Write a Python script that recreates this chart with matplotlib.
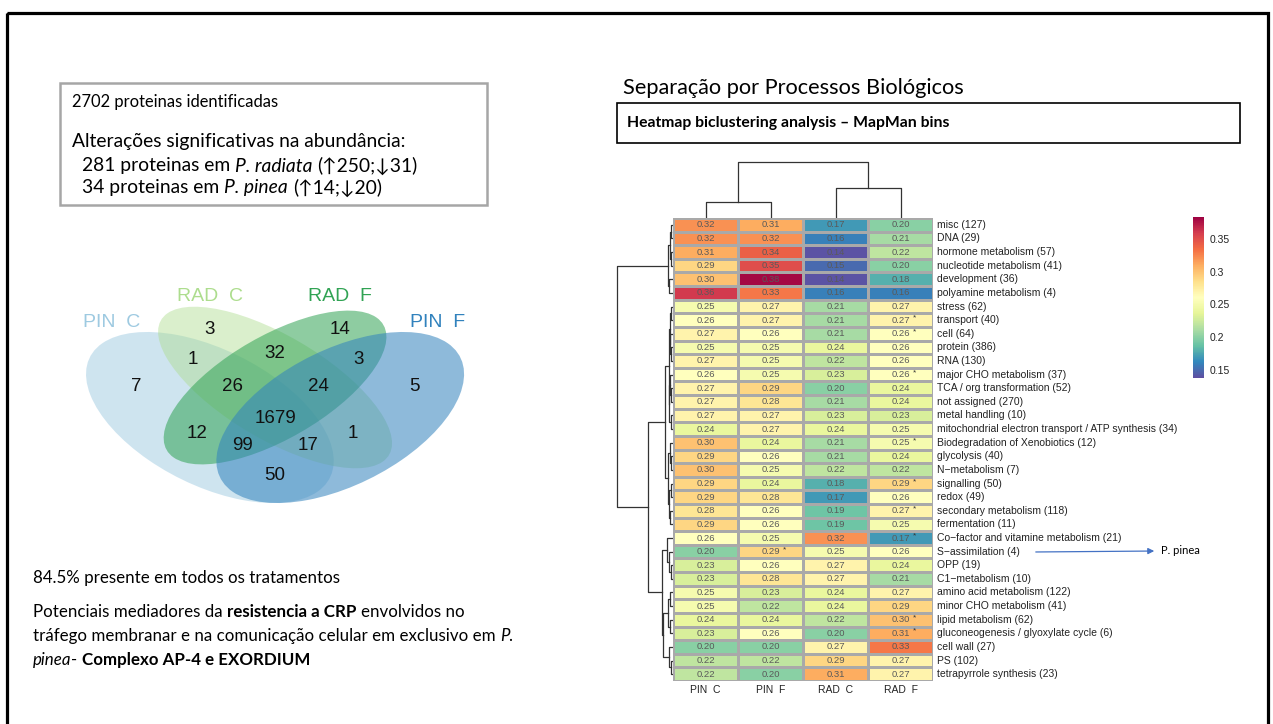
import matplotlib
matplotlib.use("Agg")
import numpy as np
import matplotlib.pyplot as plt
from matplotlib.patches import Ellipse, Rectangle

W, H = 1273, 724
SLIDE_FONT = ["Lato", "DejaVu Sans"]
HM_FONT = ["Liberation Sans", "DejaVu Sans"]

# ---------------- heatmap data (MapMan bins, mean values per condition)
bins = [
    "misc (127)", "DNA (29)", "hormone metabolism (57)", "nucleotide metabolism (41)",
    "development (36)", "polyamine metabolism (4)", "stress (62)", "transport (40)",
    "cell (64)", "protein (386)", "RNA (130)", "major CHO metabolism (37)",
    "TCA / org transformation (52)", "not assigned (270)", "metal handling (10)",
    "mitochondrial electron transport / ATP synthesis (34)",
    "Biodegradation of Xenobiotics (12)", "glycolysis (40)", "N\u2212metabolism (7)",
    "signalling (50)", "redox (49)", "secondary metabolism (118)", "fermentation (11)",
    "Co\u2212factor and vitamine metabolism (21)", "S\u2212assimilation (4)", "OPP (19)",
    "C1\u2212metabolism (10)", "amino acid metabolism (122)", "minor CHO metabolism (41)",
    "lipid metabolism (62)", "gluconeogenesis / glyoxylate cycle (6)", "cell wall (27)",
    "PS (102)", "tetrapyrrole synthesis (23)",
]
conditions = ["PIN  C", "PIN  F", "RAD  C", "RAD  F"]

pin_c = [0.32, 0.32, 0.31, 0.29, 0.30, 0.36, 0.25, 0.26, 0.27, 0.25, 0.27, 0.26,
         0.27, 0.27, 0.27, 0.24, 0.30, 0.29, 0.30, 0.29, 0.29, 0.28, 0.29, 0.26,
         0.20, 0.23, 0.23, 0.25, 0.25, 0.24, 0.23, 0.20, 0.22, 0.22]
pin_f = [0.31, 0.32, 0.34, 0.35, 0.38, 0.33, 0.27, 0.27, 0.26, 0.25, 0.25, 0.25,
         0.29, 0.28, 0.27, 0.27, 0.24, 0.26, 0.25, 0.24, 0.28, 0.26, 0.26, 0.25,
         0.29, 0.26, 0.28, 0.23, 0.22, 0.24, 0.26, 0.20, 0.22, 0.20]
rad_c = [0.17, 0.16, 0.14, 0.15, 0.14, 0.16, 0.21, 0.21, 0.21, 0.24, 0.22, 0.23,
         0.20, 0.21, 0.23, 0.24, 0.21, 0.21, 0.22, 0.18, 0.17, 0.19, 0.19, 0.32,
         0.25, 0.27, 0.27, 0.24, 0.24, 0.22, 0.20, 0.27, 0.29, 0.31]
rad_f = [0.20, 0.21, 0.22, 0.20, 0.18, 0.16, 0.27, 0.27, 0.26, 0.26, 0.26, 0.26,
         0.24, 0.24, 0.23, 0.25, 0.25, 0.24, 0.22, 0.29, 0.26, 0.27, 0.25, 0.17,
         0.26, 0.24, 0.21, 0.27, 0.29, 0.30, 0.31, 0.33, 0.27, 0.27]
# significant cells (row, column)
starred = [(7, 3), (8, 3), (11, 3), (16, 3), (19, 3), (21, 3), (23, 3),
           (24, 1), (29, 3), (30, 3)]

# dendrograms: leaf = index, node = (height, left, right); heights in pixels
col_tree = (56, (16, 0, 1), (30, 2, 3))
row_tree = (
    56,
    (5, (3, (1.5, 0, 1), (2, 2, 3)), (4, 4, 5)),
    (25,
     (8,
      (4,
       (3, (2, 6, 7), (2.5, 8, (1.5, 9, 10))),
       (3.5, (2.5, 11, (1.5, 12, 13)), (2, 14, 15))),
      (5,
       (3, 16, (2, 17, 18)),
       (3.5, (2, 19, 20), (2.5, 21, 22)))),
     (11,
      (6, 23, (4, 24, (2, 25, 26))),
      (10, (5, (2.5, 27, 28), (2.5, 29, 30)), (4, 31, (2, 32, 33))))),
)

# ---------------- venn data
venn_sets = ["PIN  C", "RAD  C", "RAD  F", "PIN  F"]
venn_colors = ["#9ecae1", "#addd8e", "#31a354", "#3182bd"]
venn_counts = [7, 3, 14, 5, 1, 32, 3, 26, 24, 1679, 12, 1, 99, 17, 50]

# layout of venn (normalised coordinates)
venn_ellipses = [(0.35, 0.47, 0.35, 0.20, 135), (0.50, 0.57, 0.35, 0.15, 135),
                 (0.50, 0.57, 0.33, 0.15, 45), (0.65, 0.47, 0.35, 0.20, 45)]
venn_alpha = [0.5, 0.45, 0.55, 0.55]
venn_count_pos = [(0.18, 0.575), (0.35, 0.765), (0.65, 0.765), (0.82, 0.575),
                  (0.311, 0.665), (0.50, 0.685), (0.691, 0.665), (0.401, 0.575),
                  (0.599, 0.575), (0.50, 0.468), (0.32, 0.418), (0.679, 0.418),
                  (0.426, 0.375), (0.576, 0.375), (0.50, 0.275)]
venn_label_pos = [(0.125, 0.788), (0.35, 0.875), (0.65, 0.875), (0.875, 0.788)]


def px_box(x0, y0, x1, y1):
    return [x0 / W, 1 - y1 / H, (x1 - x0) / W, (y1 - y0) / H]


def draw_tree(ax, node, rows):
    if isinstance(node, int):
        return node + 0.5, 0.0
    h, left, right = node
    p1, h1 = draw_tree(ax, left, rows)
    p2, h2 = draw_tree(ax, right, rows)
    if rows:
        ax.plot([h1, h, h, h2], [p1, p1, p2, p2], color="#333333", lw=0.9)
    else:
        ax.plot([p1, p1, p2, p2], [h1, h, h, h2], color="#333333", lw=0.9)
    return (p1 + p2) / 2, h


fig = plt.figure(figsize=(W / 100, H / 100), dpi=100)
bg = fig.add_axes([0, 0, 1, 1])
bg.set_xlim(0, W)
bg.set_ylim(H, 0)
bg.axis("off")
renderer = fig.canvas.get_renderer()

# slide border
bg.add_patch(Rectangle((6.5, 12.5), 1261, 800, fill=False, ec="black", lw=2.3))


def space_width(size, weight="normal"):
    a = bg.text(0, 0, "x x", fontsize=size, family=SLIDE_FONT, fontweight=weight)
    b = bg.text(0, 0, "xx", fontsize=size, family=SLIDE_FONT, fontweight=weight)
    w = a.get_window_extent(renderer).width - b.get_window_extent(renderer).width
    a.remove()
    b.remove()
    return w


def draw_runs(x, y, runs, size):
    for txt, weight, style in runs:
        lead = len(txt) - len(txt.lstrip(" "))
        trail = len(txt) - len(txt.rstrip(" "))
        x += lead * space_width(size, weight)
        core = txt.strip(" ")
        if core:
            t = bg.text(x, y, core, fontsize=size, family=SLIDE_FONT, fontweight=weight,
                        fontstyle=style, va="center", ha="left")
            x += t.get_window_extent(renderer).width
        x += trail * space_width(size, weight)


# ---------------- left side text
BOX_FS = 11.9
BOX_FS2 = 13.9
BODY_FS = 12.2
bg.add_patch(Rectangle((60, 83), 427, 122, fill=False, ec="#a6a6a6", lw=1.8))
draw_runs(72, 102, [("2702 proteinas identificadas", "normal", "normal")], BOX_FS)
draw_runs(72, 141, [("Alterações significativas na abundância:", "normal", "normal")], BOX_FS2)
draw_runs(82, 166, [("281 proteinas em ", "normal", "normal"),
                    ("P. radiata", "normal", "italic"),
                    (" (\u2191250;\u219331)", "normal", "normal")], BOX_FS2)
draw_runs(82, 188, [("34 proteinas em ", "normal", "normal"),
                    ("P. pinea", "normal", "italic"),
                    (" (\u219114;\u219320)", "normal", "normal")], BOX_FS2)

draw_runs(33, 578, [("84.5% presente em todos os tratamentos", "normal", "normal")], BODY_FS)
draw_runs(33, 612, [("Potenciais mediadores da ", "normal", "normal"),
                    ("resistencia a CRP", "bold", "normal"),
                    (" envolvidos no", "normal", "normal")], BODY_FS)
draw_runs(33, 636, [("tráfego membranar e na comunicação celular em exclusivo em ", "normal", "normal"),
                    ("P.", "normal", "italic")], BODY_FS)
draw_runs(33, 660, [("pinea", "normal", "italic"), ("- ", "normal", "normal"),
                    ("Complexo AP-4 e EXORDIUM", "bold", "normal")], BODY_FS)

# ---------------- venn diagram
vax = fig.add_axes(px_box(57.8, 258.5, 492.3, 558.5))
vax.set_xlim(0, 1)
vax.set_ylim(0, 1)
vax.axis("off")
for (cx, cy, a, b, rot), col, al in zip(venn_ellipses, venn_colors, venn_alpha):
    vax.add_patch(Ellipse((cx, cy), 2 * a, 2 * b, angle=rot, fc=col, ec="none", alpha=al))
for n, (x, y) in zip(venn_counts, venn_count_pos):
    vax.text(x, y, str(n), ha="center", va="center", fontsize=13.5, family=HM_FONT,
             color="#111111")
for name, (x, y), col in zip(venn_sets, venn_label_pos, venn_colors):
    vax.text(x, y, name, ha="center", va="center", fontsize=14, family=HM_FONT, color=col)

# ---------------- right side titles
bg.text(623, 88, "Separação por Processos Biológicos", fontsize=15.7, family=SLIDE_FONT,
        va="center", ha="left")
bg.add_patch(Rectangle((617, 103), 623, 40, fill=False, ec="black", lw=1.2))
bg.text(627, 123, "Heatmap biclustering analysis \u2013 MapMan bins", fontsize=11.3,
        family=SLIDE_FONT, fontweight="bold", va="center", ha="left")

# ---------------- heatmap
values = np.column_stack([pin_c, pin_f, rad_c, rad_f])
n_rows, n_cols = values.shape
hax = fig.add_axes(px_box(673, 218, 933, 681))
mesh = hax.pcolormesh(values, cmap="Spectral_r", vmin=0.138, vmax=0.383,
                      edgecolors="#a9a9a9", linewidth=0.9)
hax.set_xlim(0, n_cols)
hax.set_ylim(n_rows, 0)
hax.axis("off")
for i in range(n_rows):
    for j in range(n_cols):
        hax.text(j + 0.5, i + 0.5, f"{values[i, j]:.2f}", ha="center", va="center",
                 fontsize=6.8, family=HM_FONT, color="#5a5a5a")
for i, j in starred:
    hax.text(j + 0.72, i + 0.35, "*", ha="center", va="center", fontsize=6,
             family=HM_FONT, color="#333333")
for i, name in enumerate(bins):
    hax.text(n_cols + 0.06, i + 0.5, name, ha="left", va="center", fontsize=7.5,
             family=HM_FONT, color="#222222", clip_on=False)
for j, name in enumerate(conditions):
    hax.text(j + 0.5, n_rows + 0.65, name, ha="center", va="center", fontsize=7.5,
             family=HM_FONT, color="#222222", clip_on=False)

rax = fig.add_axes(px_box(612, 218, 673, 681))
rax.set_xlim(61, 0)
rax.set_ylim(n_rows, 0)
rax.axis("off")
draw_tree(rax, row_tree, True)

cax_d = fig.add_axes(px_box(673, 158, 933, 218))
cax_d.set_xlim(0, n_cols)
cax_d.set_ylim(0, 60)
cax_d.axis("off")
draw_tree(cax_d, col_tree, False)

# colour bar
cbax = fig.add_axes(px_box(1193, 217, 1204, 378))
cb = fig.colorbar(mesh, cax=cbax)
cb.outline.set_visible(False)
cb.set_ticks([0.15, 0.2, 0.25, 0.3, 0.35])
cb.set_ticklabels(["0.15", "0.2", "0.25", "0.3", "0.35"])
cbax.tick_params(length=0, labelsize=7.5, pad=4, labelcolor="#222222")
for lbl in cbax.get_yticklabels():
    lbl.set_family(HM_FONT)

# P. pinea pointer
bg.annotate("", xy=(1157, 551), xytext=(1033, 552),
            arrowprops=dict(arrowstyle="-|>", color="#4472c4", lw=0.9, mutation_scale=9))
bg.text(1161, 550, "P. pinea", fontsize=8, family=SLIDE_FONT, va="center", ha="left")

fig.savefig("out.png", dpi=100)
